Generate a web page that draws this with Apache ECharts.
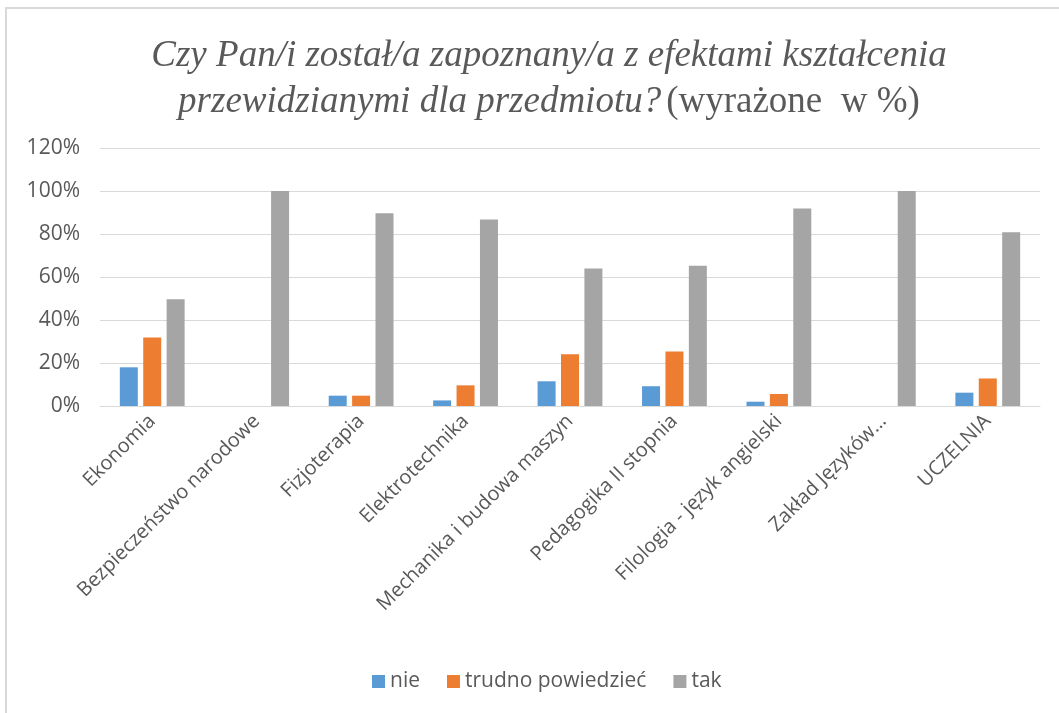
<!DOCTYPE html>
<html>
<head>
<meta charset="utf-8">
<script src="https://cdn.jsdelivr.net/npm/echarts@6/dist/echarts.min.js"></script>
<style>
  html, body { margin: 0; padding: 0; background: #fff; }
  #main { width: 1059px; height: 713px; }
</style>
</head>
<body>
<div id="main"></div>
<script>
// categories (kierunki)
var categories = ['Ekonomia', 'Bezpieczeństwo narodowe', 'Fizjoterapia', 'Elektrotechnika',
    'Mechanika i budowa maszyn', 'Pedagogika II stopnia', 'Filologia - język angielski',
    'Zakład Języków…', 'UCZELNIA'];

// odpowiedzi w %
var nie = [18, 0, 4.8, 2.6, 11.5, 9.2, 2, 0, 6.2];
var trudno = [31.9, 0, 4.8, 9.6, 24.1, 25.3, 5.6, 0, 12.8];
var tak = [49.7, 100, 89.6, 86.8, 64, 65.2, 91.9, 100, 80.8];

var seriesNames = ['nie', 'trudno powiedzieć', 'tak'];
var colors = ['#5b9bd5', '#ed7d31', '#a5a5a5'];

function drawChart(){
    var myChart = echarts.init(document.getElementById('main'));
    var labelFont = '"Open Sans", "Liberation Sans", sans-serif';

    var option = {
        color: colors,
        title: {
            left: 544,
            textAlign: 'center',
            top: 28,
            text: '{i|Czy Pan/i został/a zapoznany/a z efektami kształcenia}\n{i|przewidzianymi dla przedmiotu?} {n|(wyrażone  w %)}',
            textStyle: {
                fontWeight: 'normal',
                rich: {
                    i: {
                        fontFamily: '"Liberation Serif", serif',
                        fontStyle: 'italic',
                        fontWeight: 'normal',
                        fontSize: 37,
                        color: '#595959',
                        lineHeight: 46
                    },
                    n: {
                        fontFamily: '"Liberation Serif", serif',
                        fontWeight: 'normal',
                        fontSize: 37,
                        color: '#595959',
                        lineHeight: 46
                    }
                }
            }
        },
        legend: {
            bottom: 16,
            left: 367,
            itemWidth: 13,
            itemHeight: 13,
            itemGap: 27,
            icon: 'rect',
            textStyle: { color: '#595959', fontSize: 21, fontFamily: labelFont },
            data: seriesNames
        },
        grid: {
            left: 100,
            right: 19,
            top: 148,
            bottom: 307,
            containLabel: false
        },
        xAxis: {
            type: 'category',
            data: categories,
            axisLine: { lineStyle: { color: '#d9d9d9', width: 1 } },
            axisTick: { show: false },
            axisLabel: {
                rotate: 45,
                interval: 0,
                margin: 12,
                color: '#595959',
                fontSize: 20,
                fontFamily: labelFont
            }
        },
        yAxis: {
            type: 'value',
            min: 0,
            max: 120,
            interval: 20,
            axisLine: { show: false },
            axisTick: { show: false },
            splitLine: { lineStyle: { color: '#d9d9d9', width: 1 } },
            axisLabel: {
                formatter: '{value}%',
                margin: 20,
                color: '#595959',
                fontSize: 21,
                fontFamily: labelFont
            }
        },
        graphic: [{
            type: 'rect',
            shape: { x: 6, y: 8, width: 1100, height: 760 },
            style: { fill: null, stroke: '#d9d9d9', lineWidth: 2 },
            silent: true
        }],
        series: [
            { name: seriesNames[0], type: 'bar', data: nie, barWidth: 18, barGap: '30%' },
            { name: seriesNames[1], type: 'bar', data: trudno, barWidth: 18, barGap: '30%' },
            { name: seriesNames[2], type: 'bar', data: tak, barWidth: 18, barGap: '30%' }
        ]
    };

    myChart.setOption(option);
}

drawChart();
</script>
</body>
</html>
